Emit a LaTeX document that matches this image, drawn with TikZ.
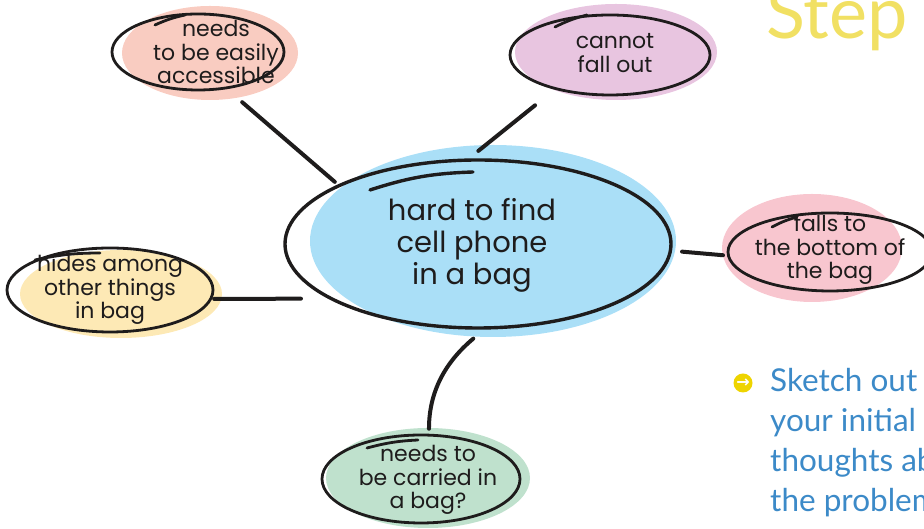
\documentclass[tikz,border=0pt]{standalone}
\usepackage{fontspec}
\newfontfamily\handfont{Poppins}
\newfontfamily\guidefont{Lato}
\newfontfamily\symbolfont{DejaVu Sans}
\usetikzlibrary{shapes.geometric}
\definecolor{inkblack}{HTML}{1E1C1C}
\definecolor{hubblue}{HTML}{AADFF7}
\definecolor{salmon}{HTML}{F9CCC1}
\definecolor{lilac}{HTML}{E8C5E0}
\definecolor{rosepink}{HTML}{F8C6CF}
\definecolor{butter}{HTML}{FDE9B5}
\definecolor{mint}{HTML}{BFE1CD}
\definecolor{stepyellow}{HTML}{F1E063}
\definecolor{bulletyellow}{HTML}{EED400}
\definecolor{guideblue}{HTML}{3C8AC8}
\begin{document}
\begin{tikzpicture}[x=1pt, y=1pt,
  blob/.style={ellipse, inner sep=0pt, draw=none},
  ring/.style={ellipse, inner sep=0pt, draw=inkblack, line width=2.8pt},
  tail/.style={draw=inkblack, line width=2.8pt, line cap=round},
  link/.style={draw=inkblack, line width=4pt, line cap=round},
  words/.style={font=\handfont\fontsize{22}{23.5}\selectfont, text=inkblack, align=center, inner sep=0pt}]
\useasboundingbox (0,0) rectangle (924,529);

\node[blob, fill=hubblue, minimum width=366pt, minimum height=192pt] (hubfill) at (493,288) {};
\node[blob, fill=salmon, minimum width=176pt, minimum height=94pt] (tlfill) at (210,476) {};
\node[blob, fill=lilac, minimum width=202pt, minimum height=96pt] (trfill) at (616,477) {};
\node[blob, fill=rosepink, minimum width=180pt, minimum height=108pt] (rfill) at (812,281) {};
\node[blob, fill=butter, minimum width=202pt, minimum height=88pt] (lfill) at (121,235) {};
\node[blob, fill=mint, minimum width=204pt, minimum height=100pt] (bfill) at (428,51) {};

\node[ring, line width=3.4pt, minimum width=386pt, minimum height=168pt] (hubring) at (478,285) {};
\node[ring, minimum width=172pt, minimum height=76pt] (tlring) at (198,477) {};
\node[ring, minimum width=200pt, minimum height=80pt] (trring) at (610,474) {};
\node[ring, minimum width=204pt, minimum height=78pt] (rring) at (830,277) {};
\node[ring, minimum width=206pt, minimum height=84pt] (lring) at (110,239) {};
\node[ring, minimum width=198pt, minimum height=88pt] (bring) at (421,50) {};

\draw[tail, line width=3.4pt] (hubring.center) ++(-108,54) to[bend left=8] ++(103,18);
\draw[tail] (tlring.center) ++(-43,27) to[bend left=6] ++(30,10);
\draw[tail] (trring.center) ++(-55,28) to[bend left=6] ++(32,12);
\draw[tail] (rring.center) ++(-58,25) to[bend left=6] ++(25,10);
\draw[tail] (lring.center) ++(-75,30) to[bend left=6] ++(65,7);
\draw[tail] (bring.center) ++(-54,31) to[bend left=6] ++(51,8);

\node[words, font=\handfont\fontsize{29}{32}\selectfont] (hubtext) at (472,284) {hard to find\\cell phone\\in a bag};
\node[words] (tltext) at (216,477) {needs\\to be easily\\accessible};
\node[words] (trtext) at (615,476) {cannot\\fall out};
\node[words] (rtext) at (830,279) {falls to\\the bottom of\\the bag};
\node[words] (ltext) at (110,239) {hides among\\other things\\in bag};
\node[words] (btext) at (428,49) {needs to\\be carried in\\a bag?};

\draw[link, shorten <=20pt, shorten >=4pt] (tlring.-52) -- (hubring.157);
\draw[link, shorten <=25pt, shorten >=12pt] (trring.212) -- (hubring.96);
\draw[link, shorten <=10pt, shorten >=4pt] (hubring.-2) -- (rring.182);
\draw[link, shorten <=2pt, shorten >=27pt] (lring.-5) -- (hubring.200);
\draw[link, shorten <=14pt, shorten >=5pt] (hubring.-86) to[out=220, in=90] (bring.80);

\node[anchor=base west, inner sep=0pt, text=stepyellow, font=\guidefont\fontsize{72}{72}\selectfont] (step) at (766,490) {Step};
\node[circle, fill=bulletyellow, minimum size=19pt, inner sep=0pt, text=white, font=\symbolfont\bfseries\fontsize{16}{16}\selectfont] (bullet) at (743,146) {→};
\node[anchor=north west, inner sep=0pt, align=left, text=guideblue, font=\guidefont\fontsize{31.5}{40}\selectfont] (sketch) at (770,161) {Sketch out\\your initial\\thoughts ab\\the problem};
\end{tikzpicture}
\end{document}
